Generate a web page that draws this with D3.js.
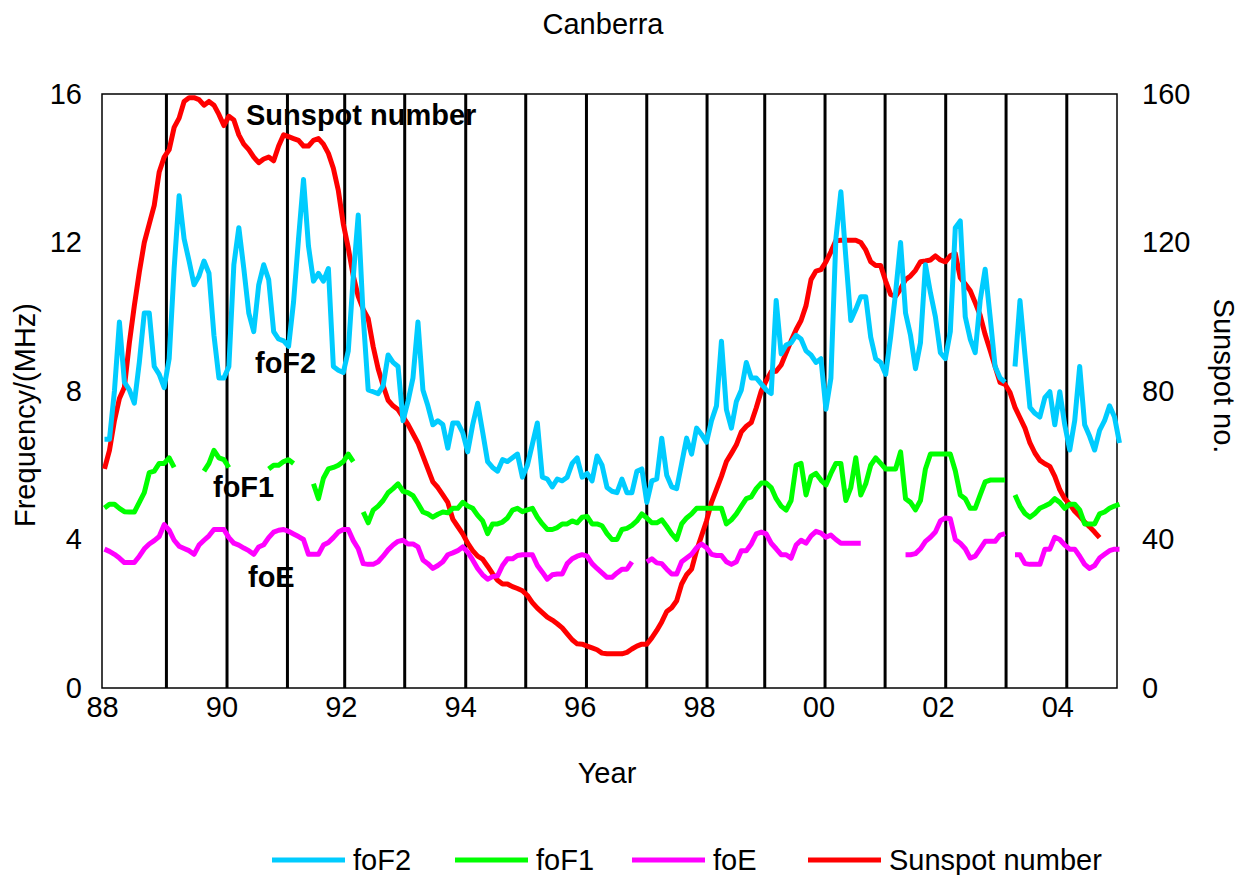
<!DOCTYPE html>
<html><head><meta charset="utf-8">
<script src="https://cdn.jsdelivr.net/npm/d3@7"></script>
<style>
body{margin:0;background:#fff}
text{font-family:"Liberation Sans",Arial,Helvetica,sans-serif;fill:#000}
</style>
</head><body>
<svg id="chart" width="1246" height="875"></svg>
<script>
// Monthly values from January 1988 (index 0) onward; null = no data
const startYear = 1988;
const foF2 = [6.7,6.7,8.0,9.86,8.24,8.03,7.67,8.77,10.1,10.1,8.66,8.45,8.09,8.87,11.3,13.26,12.1,11.5,10.86,11.1,
11.5,11.17,9.5,8.35,8.35,8.66,11.4,12.4,11.3,10.1,9.6,10.86,11.4,11.0,9.6,9.4,9.35,9.2,10.4,12.1,
13.7,11.9,10.96,11.17,10.96,11.3,8.66,8.56,8.5,9.08,11.07,12.74,10.0,8.03,7.98,7.93,8.14,8.97,8.77,8.66,
7.2,7.72,8.35,9.86,8.03,7.6,7.09,7.2,7.1,6.46,7.14,7.14,6.88,6.36,7.09,7.67,6.9,6.1,5.94,5.84,
6.15,6.1,6.2,6.3,5.68,6.0,6.57,7.14,5.68,5.63,5.42,5.63,5.58,5.68,6.05,6.2,5.68,5.78,5.58,6.25,
6.0,5.4,5.3,5.26,5.63,5.26,5.26,5.84,5.9,5.0,5.58,5.63,6.73,5.73,5.42,5.37,6.05,6.73,6.3,7.0,
6.83,6.62,7.2,7.6,9.34,7.5,7.0,7.72,8.03,8.77,8.35,8.35,8.19,8.03,7.93,10.44,9.0,9.24,9.3,9.5,
9.4,9.08,8.97,8.77,8.87,7.51,8.35,12.1,13.37,11.6,9.9,10.2,10.54,10.54,9.45,8.87,8.77,8.45,9.45,10.65,
12.0,10.1,9.5,8.6,9.3,11.4,10.65,10.0,9.03,8.87,9.6,12.4,12.58,10.0,9.4,9.03,10.44,11.28,10.0,8.66,
8.35,8.24,null,8.66,10.44,8.97,7.56,7.4,7.3,7.82,7.98,7.09,7.98,7.09,6.41,7.2,8.66,7.09,6.78,6.41,
6.94,7.2,7.6,7.3,6.6];
const foF1 = [4.85,4.95,4.95,4.84,4.75,4.74,4.74,5.0,5.26,5.8,5.84,6.05,6.05,6.2,5.94,null,null,null,null,null,
5.84,6.05,6.4,6.2,6.15,5.94,null,null,null,null,null,null,null,5.9,6.0,6.0,6.1,6.15,6.05,null,
null,null,5.5,5.1,5.65,5.9,5.94,6.0,6.1,6.3,6.1,null,4.74,4.45,4.79,4.9,5.05,5.26,5.37,5.5,
5.3,5.26,5.18,4.97,4.74,4.69,4.6,4.68,4.74,4.72,4.84,4.84,5.0,4.9,4.84,4.65,4.5,4.16,4.42,4.42,
4.47,4.58,4.79,4.84,4.75,4.8,4.84,4.6,4.42,4.27,4.27,4.32,4.42,4.42,4.5,4.45,4.6,4.62,4.42,4.42,
4.37,4.16,4.0,4.0,4.27,4.3,4.38,4.5,4.69,4.58,4.45,4.45,4.53,4.35,4.15,4.0,4.42,4.58,4.69,4.84,
4.84,4.84,4.84,4.84,4.84,4.42,4.53,4.69,4.9,5.1,5.15,5.37,5.52,5.52,5.4,5.1,4.9,4.79,5.05,6.0,
6.05,5.2,5.7,5.78,5.6,5.47,5.78,6.05,6.05,5.05,5.4,6.2,5.2,5.5,6.0,6.2,6.05,5.9,5.9,5.9,
6.36,5.1,5.0,4.8,5.05,5.9,6.3,6.3,6.3,6.3,6.3,5.85,5.2,5.1,4.84,4.84,5.2,5.55,5.6,5.6,
5.6,5.6,null,5.2,4.9,4.7,4.6,4.7,4.84,4.9,4.97,5.1,5.0,4.84,4.95,4.95,4.8,4.42,4.42,4.42,
4.69,4.74,4.84,4.9,4.95];
const foE = [3.74,3.68,3.6,3.5,3.38,3.38,3.38,3.55,3.75,3.88,3.97,4.08,4.4,4.25,3.98,3.82,3.76,3.7,3.6,3.85,
3.98,4.1,4.27,4.27,4.27,4.05,3.9,3.85,3.77,3.7,3.6,3.8,3.86,4.05,4.2,4.25,4.27,4.22,4.15,4.08,
4.0,3.6,3.6,3.6,3.85,3.92,4.05,4.2,4.27,4.27,3.97,3.75,3.35,3.33,3.33,3.4,3.55,3.72,3.85,3.95,
3.98,3.88,3.88,3.8,3.45,3.35,3.22,3.3,3.4,3.59,3.64,3.7,3.8,3.66,3.45,3.22,3.05,2.93,3.0,3.02,
3.3,3.48,3.48,3.57,3.59,3.59,3.59,3.3,3.12,2.93,3.05,3.07,3.07,3.35,3.48,3.55,3.59,3.55,3.35,3.22,
3.1,2.98,2.98,3.1,3.2,3.2,3.4,null,null,3.4,3.48,3.37,3.35,3.2,3.07,3.07,3.4,3.5,3.6,3.78,
3.88,3.78,3.6,3.57,3.57,3.4,3.33,3.4,3.7,3.7,3.88,4.15,4.2,4.15,3.9,3.75,3.59,3.59,3.5,3.85,
3.98,3.9,4.1,4.22,4.17,4.06,4.12,4.0,3.9,3.9,3.9,3.9,3.9,null,null,null,null,null,null,null,
null,3.59,3.59,3.62,3.75,3.95,4.06,4.2,4.5,4.58,4.56,4.0,3.9,3.75,3.5,3.55,3.75,3.95,3.95,3.95,
4.12,4.16,null,3.59,3.59,3.35,3.33,3.33,3.33,3.74,3.74,4.06,4.0,3.85,3.74,3.74,3.55,3.33,3.22,3.3,
3.5,3.6,3.7,3.74,3.74];
const sunspot = [59,64,72,78,81,93,103,112,120,125,130,139,143,145,151,153.5,158,159,159,158.5,
157,158,157,154.5,151.5,154,153,149,146.5,145,143,141.5,142.5,143,142,146,149,148.5,148,147.5,
146,146,147.5,148,146.5,144,140,134,125,118.5,111,105.5,102,99.5,92,86,81.5,77.5,76,75,
73,71,68.5,66,62.5,59,55.5,54,52,50,45.5,43.5,41.5,39,37,35.5,34.7,32.8,30.8,29,
28,28,27.3,26.8,26.2,24.9,23,21.5,20.3,19.1,18.3,17.3,16.2,14.6,13,11.9,11.8,11.3,10.8,10.3,
9.4,9.2,9.2,9.2,9.2,9.6,10.5,11.3,11.8,11.8,13.5,15.5,17.8,20.6,21.6,23.5,28,30.5,32,37,
41,45,50,53.5,57,61,63.2,65.5,69,70.5,71.5,75.5,80,82.8,85.2,85.3,87,90.3,93.5,96.5,
99,103,110,112.3,112.7,114.8,117.5,120.5,120.6,120.6,120.6,120.6,120,118,114.8,113.8,113.8,109.6,106,105.5,
107.5,110,111,112.5,114.8,115,115.3,116.4,115.3,114.8,116.4,117,110.5,108.8,107,103.8,100.4,95.2,91,86.6,
82.3,81.8,79.6,75.6,72.8,70,66,63.3,61.3,60.4,59.7,57,53.4,51,49.5,47.6,46.3,44.7,43.4,42,
40.5];
// Year-marker lines (fractional years)
const markerYears = [1989.079,1990.094,1991.106,1992.065,1993.07,1994.092,1995.097,1996.114,1997.124,1998.134,
1999.1,2000.11,2001.116,2002.131,2003.142,2004.159];
const xTicks = [1988,1990,1992,1994,1996,1998,2000,2002,2004];
const leftTicks = [0,4,8,12,16];
const rightTicks = [0,40,80,120,160];
const seriesNames = ["foF2","foF1","foE","Sunspot number"];
const seriesColors = ["#00CCFF","#00FF00","#FF00FF","#FF0000"];

const svg = d3.select("#chart");
const P = {l:102, r:1117, t:94, b:688};
const FS = 29;
const x = d3.scaleLinear().domain([1988,2005]).range([P.l,P.r]);
const yL = d3.scaleLinear().domain([0,16]).range([P.b,P.t]);
const yR = d3.scaleLinear().domain([0,160]).range([P.b,P.t]);
const mx = i => x(startYear + (i+0.5)/12);

// Title
svg.append("text").attr("x",603).attr("y",34).attr("text-anchor","middle")
  .style("font-size",FS+"px").text("Canberra");

// Axes
const gl = svg.append("g").attr("transform",`translate(${P.l},0)`)
  .call(d3.axisLeft(yL).tickValues(leftTicks).tickSize(0).tickPadding(20));
const gr = svg.append("g").attr("transform",`translate(${P.r},0)`)
  .call(d3.axisRight(yR).tickValues(rightTicks).tickSize(0).tickPadding(25));
const gb = svg.append("g").attr("transform",`translate(0,${P.b})`)
  .call(d3.axisBottom(x).tickValues(xTicks).tickSize(0).tickPadding(8)
    .tickFormat(d => String(d % 100).padStart(2,"0")));
[gl,gr,gb].forEach(g => {
  g.select(".domain").remove();
  g.selectAll("text").style("font-size",FS+"px").style("font-family",'"Liberation Sans",Arial,sans-serif').attr("fill","#000");
});

// Axis titles
svg.append("text").attr("transform","translate(35,415) rotate(-90)").attr("text-anchor","middle")
  .style("font-size",FS+"px").text("Frequency/(MHz)");
svg.append("text").attr("transform","translate(1214,376) rotate(90)").attr("text-anchor","middle")
  .style("font-size",FS+"px").text("Sunspot no.");
svg.append("text").attr("x",607).attr("y",783).attr("text-anchor","middle")
  .style("font-size",FS+"px").text("Year");

// In-plot labels
const lab = [["Sunspot number",246,125],["foF2",255,373],["foF1",213,497],["foE",248,587]];
svg.append("g").selectAll("text").data(lab).join("text")
  .attr("x",d=>d[1]).attr("y",d=>d[2]).style("font-size","29px").style("font-weight","bold").text(d=>d[0]);

// Frame
svg.append("rect").attr("x",P.l).attr("y",P.t).attr("width",P.r-P.l).attr("height",P.b-P.t)
  .attr("fill","none").attr("stroke","#000").attr("stroke-width",1.5);

// Year marker lines
svg.append("g").selectAll("line").data(markerYears).join("line")
  .attr("x1",d=>x(d)).attr("x2",d=>x(d)).attr("y1",P.t).attr("y2",P.b)
  .attr("stroke","#000").attr("stroke-width",3);

// Series
const lineL = d3.line().defined(d=>d!=null).x((d,i)=>mx(i)).y(d=>yL(d));
const lineR = d3.line().defined(d=>d!=null).x((d,i)=>mx(i)).y(d=>yR(d));
const series = [[foF2,lineL,0],[foF1,lineL,1],[foE,lineL,2],[sunspot,lineR,3]];
[series[3],series[0],series[1],series[2]].forEach(s => {
  svg.append("path").attr("d",s[1](s[0])).attr("fill","none")
    .attr("stroke",seriesColors[s[2]]).attr("stroke-width",5)
    .attr("stroke-linejoin","round").attr("stroke-linecap","butt");
});

// Legend
const legX = [272,455,632,808];
const lg = svg.append("g").selectAll("g").data(seriesNames).join("g")
  .attr("transform",(d,i)=>`translate(${legX[i]},860)`);
lg.append("line").attr("x1",0).attr("x2",73).attr("y1",0).attr("y2",0)
  .attr("stroke",(d,i)=>seriesColors[i]).attr("stroke-width",5);
lg.append("text").attr("x",81).attr("y",10).style("font-size",FS+"px").text(d=>d);
</script>
</body></html>
